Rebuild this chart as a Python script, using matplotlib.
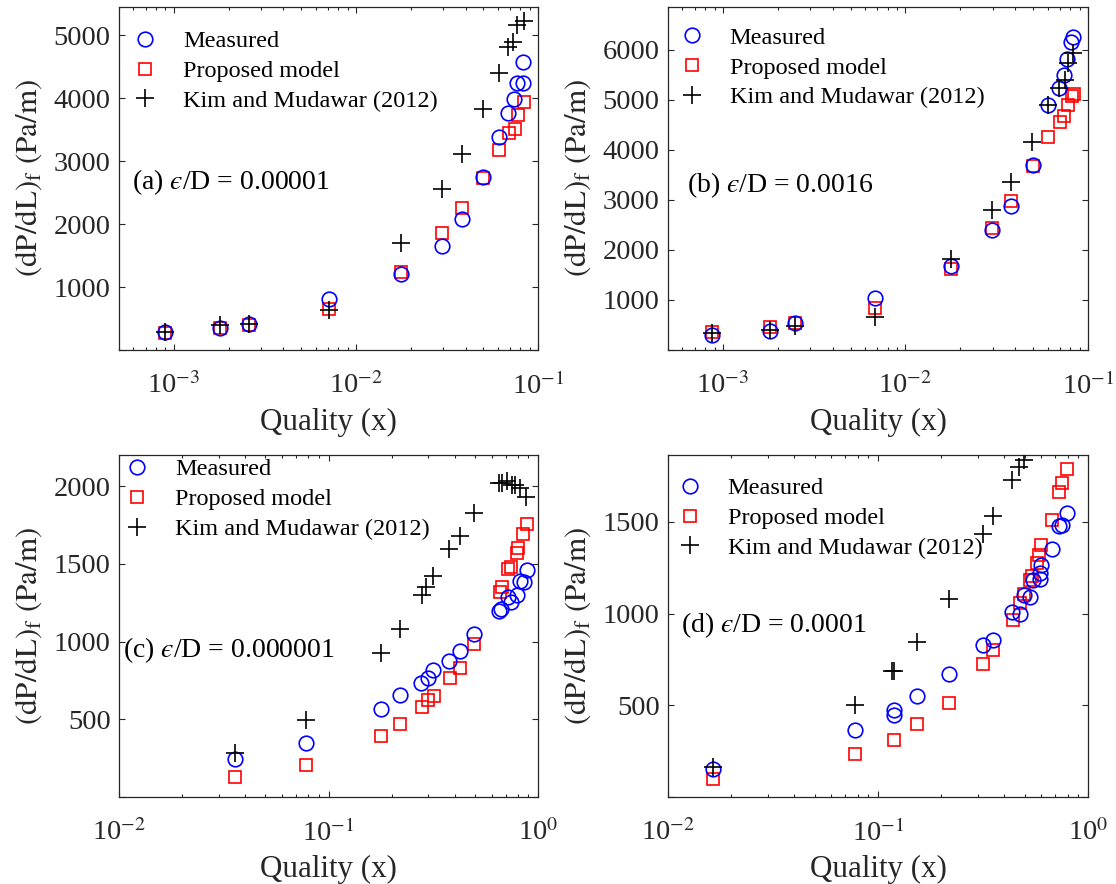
import matplotlib
matplotlib.use("Agg")
import matplotlib.pyplot as plt
from matplotlib.ticker import LogLocator, FuncFormatter, NullFormatter, MultipleLocator
import numpy as np

plt.rcParams['font.family'] = ['Liberation Serif', 'DejaVu Serif']
plt.rcParams['mathtext.fontset'] = 'stix'

# ---- (a) eps/D = 0.00001 ----
a_x_meas = [9.0e-4, 1.80e-3, 2.58e-3, 7.08e-3, 0.01765, 0.0296, 0.0381, 0.0497,
            0.0611, 0.0681, 0.0741, 0.0769, 0.0824, 0.0824]
a_meas = [281, 345, 413, 806, 1203, 1654, 2083, 2756, 3381, 3773, 3986, 4250, 4250, 4584]
a_x_model = [9.0e-4, 1.80e-3, 2.58e-3, 7.08e-3, 0.01765, 0.0296, 0.0381, 0.0497,
             0.0611, 0.0691, 0.0747, 0.0781, 0.0834]
a_model = [275, 345, 400, 647, 1245, 1865, 2253, 2740, 3180, 3445, 3514, 3737, 3948]
a_x_kim = [9.0e-4, 1.80e-3, 2.60e-3, 7.08e-3, 0.01765, 0.0296, 0.0381, 0.0497,
           0.0611, 0.0681, 0.0731, 0.0762, 0.0834]
a_kim = [281, 398, 413, 636, 1696, 2555, 3116, 3827, 4399, 4807, 4886, 5168, 5220]

# ---- (b) eps/D = 0.0016 ----
b_x_meas = [8.7e-4, 1.80e-3, 2.49e-3, 6.79e-3, 0.01765, 0.0299, 0.0380, 0.0502,
            0.0604, 0.0694, 0.0739, 0.0764, 0.0811, 0.0832]
b_meas = [300, 387, 533, 1047, 1687, 2387, 2880, 3700, 4900, 5233, 5500, 5813, 6147, 6253]
b_x_model = [8.7e-4, 1.80e-3, 2.49e-3, 6.79e-3, 0.01765, 0.0299, 0.0380, 0.0502,
             0.0604, 0.0703, 0.0743, 0.0774, 0.0816, 0.0834]
b_model = [367, 453, 533, 833, 1613, 2433, 2967, 3667, 4253, 4547, 4680, 4900, 5080, 5120]
b_x_kim = [8.7e-4, 1.80e-3, 2.49e-3, 6.79e-3, 0.01765, 0.0299, 0.0380, 0.0496,
           0.0604, 0.0694, 0.0744, 0.0774, 0.0832]
b_kim = [333, 400, 470, 667, 1813, 2800, 3347, 4147, 4900, 5233, 5400, 5733, 5933]

# ---- (c) eps/D = 0.000001 ----
c_x_meas = [0.0358, 0.0779, 0.1777, 0.2198, 0.276, 0.297, 0.317, 0.378, 0.422, 0.496,
            0.653, 0.665, 0.723, 0.745, 0.792, 0.820, 0.860, 0.885]
c_meas = [245, 350, 563, 655, 734, 768, 815, 873, 939, 1050,
          1195, 1210, 1289, 1252, 1302, 1391, 1380, 1460]
c_x_model = [0.0358, 0.0779, 0.1777, 0.2198, 0.279, 0.300, 0.318, 0.380, 0.422, 0.496,
             0.655, 0.670, 0.723, 0.740, 0.790, 0.800, 0.850, 0.885]
c_model = [128, 207, 392, 467, 580, 623, 649, 766, 830, 986,
           1316, 1348, 1466, 1481, 1572, 1604, 1694, 1754]
c_x_kim = [0.0358, 0.0779, 0.1777, 0.2198, 0.279, 0.292, 0.315, 0.378, 0.422, 0.496,
           0.650, 0.670, 0.710, 0.750, 0.780, 0.820, 0.880]
c_kim = [282, 495, 926, 1082, 1302, 1348, 1423, 1594, 1679, 1828,
         2020, 2020, 2030, 2010, 2010, 1989, 1929]

# ---- (d) eps/D = 0.0001 ----
d_x_meas = [0.0163, 0.0777, 0.119, 0.119, 0.154, 0.219, 0.316, 0.352, 0.434, 0.472,
            0.497, 0.531, 0.546, 0.588, 0.590, 0.600, 0.674, 0.725, 0.752, 0.797]
d_meas = [155, 364, 477, 446, 549, 673, 827, 854, 1009, 1000,
          1100, 1091, 1182, 1191, 1222, 1263, 1354, 1476, 1481, 1549]
d_x_model = [0.0163, 0.0777, 0.119, 0.154, 0.219, 0.316, 0.352, 0.440, 0.475, 0.497,
             0.530, 0.540, 0.570, 0.585, 0.600, 0.674, 0.725, 0.752, 0.797]
d_model = [100, 233, 313, 396, 513, 724, 800, 967, 1058, 1109,
           1182, 1203, 1276, 1318, 1373, 1513, 1663, 1712, 1791]
d_x_kim = [0.0163, 0.0777, 0.119, 0.117, 0.154, 0.219, 0.316, 0.352, 0.434, 0.470, 0.497]
d_kim = [164, 500, 687, 687, 845, 1082, 1436, 1531, 1731, 1800, 1840]

series_labels = ['Measured', 'Proposed model', 'Kim and Mudawar (2012)']
panel_titles = ['(a) $\u03f5$/D = 0.00001', '(b) $\u03f5$/D = 0.0016',
                '(c) $\u03f5$/D = 0.000001', '(d) $\u03f5$/D = 0.0001']

W, H = 1116, 884
fig = plt.figure(figsize=(W / 100, H / 100), dpi=100)


def px_axes(x0, y0, x1, y1):
    """Add axes from pixel box (left, top, right, bottom)."""
    return fig.add_axes([x0 / W, 1 - y1 / H, (x1 - x0) / W, (y1 - y0) / H])


panels = [
    dict(box=(119, 7, 538, 350), xlim=(5e-4, 1e-1), ylim=(0, 5450), ystep=1000,
         xm=a_x_meas, ym=a_meas, xp=a_x_model, yp=a_model, xk=a_x_kim, yk=a_kim,
         leg=(0.019, 0.932), txt=(0.031, 0.49)),
    dict(box=(668, 7, 1088, 350), xlim=(5e-4, 1e-1), ylim=(0, 6850), ystep=1000,
         xm=b_x_meas, ym=b_meas, xp=b_x_model, yp=b_model, xk=b_x_kim, yk=b_kim,
         leg=(0.0136, 0.942), txt=(0.045, 0.481)),
    dict(box=(119, 455, 538, 797), xlim=(1e-2, 1), ylim=(0, 2200), ystep=500,
         xm=c_x_meas, ym=c_meas, xp=c_x_model, yp=c_model, xk=c_x_kim, yk=c_kim,
         leg=(0.0, 0.99), txt=(0.01, 0.43)),
    dict(box=(668, 455, 1088, 797), xlim=(1e-2, 1), ylim=(0, 1865), ystep=500,
         xm=d_x_meas, ym=d_meas, xp=d_x_model, yp=d_model, xk=d_x_kim, yk=d_kim,
         leg=(0.009, 0.935), txt=(0.032, 0.502)),
]

spine_col = '#262626'


def pow_fmt(v, pos):
    e = int(round(np.log10(v)))
    return r'10$^{%d}$' % e


for p, title in zip(panels, panel_titles):
    ax = px_axes(*p['box'])
    ax.set_xscale('log')
    ax.set_xlim(*p['xlim'])
    ax.set_ylim(*p['ylim'])
    ax.plot(p['xm'], p['ym'], 'o', ms=10.5, mfc='none', mec='#0000ff', mew=1.2,
            label=series_labels[0], zorder=3)
    ax.plot(p['xp'], p['yp'], 's', ms=9, mfc='none', mec='#ff0000', mew=1.2,
            label=series_labels[1], zorder=2)
    ax.plot(p['xk'], p['yk'], '+', ms=13, mec='black', mew=1.2,
            label=series_labels[2], zorder=4)

    ax.xaxis.set_major_locator(LogLocator(base=10, numticks=10))
    ax.xaxis.set_minor_locator(LogLocator(base=10, subs=np.arange(2, 10), numticks=20))
    ax.xaxis.set_major_formatter(FuncFormatter(pow_fmt))
    ax.xaxis.set_minor_formatter(NullFormatter())
    ax.yaxis.set_major_locator(MultipleLocator(p['ystep']))
    ax.yaxis.set_major_formatter(FuncFormatter(lambda v, pos: '' if v == 0 else '%d' % v))

    ax.tick_params(which='both', direction='in', top=True, right=True,
                   labelsize=20.5, colors=spine_col, width=0.8)
    ax.tick_params(which='major', length=4.5)
    ax.tick_params(which='minor', length=2.5)
    ax.tick_params(axis='x', which='major', pad=16)
    ax.tick_params(axis='y', which='major', pad=6)
    for s in ax.spines.values():
        s.set_color(spine_col)
        s.set_linewidth(0.9)

    ax.set_xlabel('Quality (x)', fontsize=22.3, color=spine_col, labelpad=6)
    ax.set_ylabel(r'$\mathrm{(dP/dL)_f\ (Pa/m)}$', fontsize=22.3, color=spine_col,
                  labelpad=7)

    ax.legend(loc='upper left', bbox_to_anchor=p['leg'], frameon=False,
              fontsize=17.5, borderaxespad=0, borderpad=0, handlelength=1.5,
              handletextpad=0.8, labelspacing=0.32)
    ax.text(p['txt'][0], p['txt'][1], title, transform=ax.transAxes,
            fontsize=20, va='center', ha='left', color='black')

fig.savefig('out.png', dpi=100)
